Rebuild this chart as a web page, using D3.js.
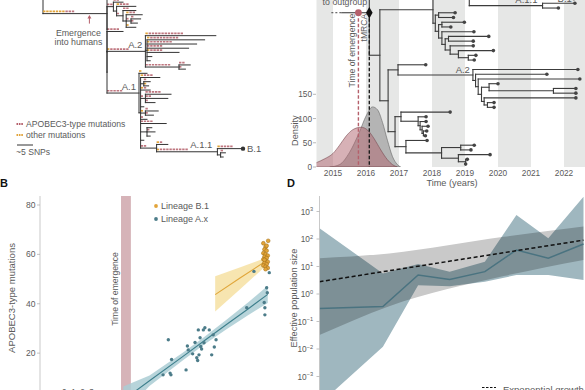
<!DOCTYPE html>
<html><head><meta charset="utf-8">
<script src="https://cdn.jsdelivr.net/npm/d3@7"></script>
<style>
body{margin:0;background:#fff}
svg{display:block}
text{font-family:"Liberation Sans",Arial,sans-serif;fill:#5a5a5a}
</style></head>
<body><svg width="585" height="390"></svg>
<script>
// ================= DATA =================
// Panel A: divergence tree  [id, parent, branch length (SNPs), APOBEC3-type muts, other muts]
const treeA = [
 ["root", null, 0, 0, 0],
 ["mrca", "root", 20, 3, 7],
 ["u", "mrca", 3, 1, 0],
 ["z1", "mrca", 0, 0, 0],
 ["t", "z1", 2, 2, 0],
 ["t_a", "t", 3, 2, 0],
 ["t1", "t", 1, 0, 0],
 ["t_b", "t1", 6, 3, 1],
 ["t2", "t1", 2, 1, 0],
 ["t_c", "t2", 4, 2, 0],
 ["t3", "t2", 1, 0, 0],
 ["t_d", "t3", 5, 2, 1],
 ["t4", "t3", 1.5, 1, 0],
 ["t_e", "t4", 3, 1, 0],
 ["t_f", "t4", 2, 1, 0],
 ["t_g", "t3", 3, 0, 1],
 ["z2", "z1", 0, 0, 0],
 ["s", "z2", 5, 4, 0],
 ["z3", "z2", 0, 0, 0],
 ["a2", "z3", 12, 6, 1],
 ["a2_a", "a2", 22, 11, 1],
 ["a2n1", "a2", 0.5, 0, 0],
 ["a2_b", "a2n1", 18, 9, 1],
 ["a2_c", "a2n1", 15.5, 7, 1],
 ["a2_d", "a2n1", 13, 5, 0],
 ["a2_e", "a2n1", 10, 4, 1],
 ["a2_f", "a2n1", 1.5, 0, 0],
 ["a2_g", "a2n1", 1, 0, 0],
 ["a2n7", "a2", 10.5, 8, 0],
 ["a2_h", "a2n7", 3.5, 2, 0],
 ["a2_i", "a2n7", 2, 1, 0],
 ["a1", "z3", 10, 5, 0],
 ["a1_a", "a1", 2.5, 0, 1],
 ["a1x", "a1", 0.5, 0, 0],
 ["a1_b", "a1x", 6, 3, 1],
 ["a1p", "a1x", 1, 0, 0],
 ["a1p_1", "a1p", 2, 1, 0],
 ["a1p_2", "a1p", 1.5, 0, 1],
 ["a1_c", "a1x", 3, 1, 1],
 ["a1q", "a1x", 1.5, 1, 0],
 ["a1q_1", "a1q", 8, 5, 0],
 ["a1q_2", "a1q", 7, 2, 0],
 ["a1q_3", "a1q", 3, 1, 0],
 ["a1_d", "a1x", 1, 0, 0],
 ["a1r", "a1x", 1.5, 0, 1],
 ["a1r_1", "a1r", 4, 1, 0],
 ["a1r_2", "a1r", 2.5, 1, 0],
 ["a1_e", "a1x", 2, 1, 0],
 ["a1_f", "a1x", 8, 4, 0],
 ["a1s", "a1x", 2, 0, 0],
 ["a1s_1", "a1s", 1.5, 0, 0],
 ["a1s_2", "a1s", 2.5, 1, 0],
 ["a1s_3", "a1s", 1, 0, 0],
 ["a1_g", "a1x", 1, 0, 0],
 ["a1t", "a1x", 5, 2, 0],
 ["a1_h", "a1t", 3.5, 1, 1],
 ["a11", "a1t", 19, 9, 1],
 ["b1", "a11", 8, 4, 1],
 ["a11n", "a11", 1, 0, 0],
 ["a11_x", "a11n", 1.5, 1, 0],
 ["a11_y", "a11n", 0.8, 0, 0]
];
const cladeLabelsA = [["a2", "A.2"], ["a1", "A.1"], ["a11", "A.1.1"]];
const emergenceSNP = 14.5;
const scaleBarSNP = 5;

// Panel C: time tree [id, parent, node date (years)]
const treeC = [
 ["root", null, 2016.1],
 ["rtop", "root", 2016.6],
 ["n1", "root", 2016.42],
 ["a1", "n1", 2018.03],
 ["a1up", "a1", 2019.13],
 ["b1", "a1up", 2020.3],
 ["b1_1", "b1", 2022.2], ["b1_2", "b1", 2021.9], ["b1_3", "b1", 2022.4],
 ["b1_4", "b1", 2022.1], ["b1_5", "b1", 2021.7], ["b1_6", "b1", 2022.3],
 ["a11", "a1up", 2021.35],
 ["a11_a", "a11", 2022.33],
 ["a11_b", "a11", 2021.83],
 ["a1L", "a1", 2018.1],
 ["c1", "a1L", 2018.2], ["c1a", "c1", 2018.7], ["c1b", "c1", 2018.65],
 ["a1L2", "a1L", 2018.2],
 ["c2", "a1L2", 2018.3], ["c2a", "c2", 2018.98], ["c2b", "c2", 2018.57],
 ["a1L3", "a1L2", 2018.3],
 ["l1", "a1L3", 2019.27],
 ["a1L4", "a1L3", 2018.4],
 ["c3", "a1L4", 2018.5], ["c3a", "c3", 2019.72], ["c3b", "c3", 2019.25],
 ["a1L5", "a1L4", 2018.55],
 ["l2", "a1L5", 2019.25],
 ["c4", "a1L5", 2018.8],
 ["l3", "c4", 2019.86],
 ["c5", "c4", 2019.1], ["c5a", "c5", 2019.33], ["c5b", "c5", 2019.28],
 ["n2", "n1", 2016.67],
 ["a2p", "n2", 2016.97],
 ["p", "a2p", 2017.81],
 ["a2", "a2p", 2019.24],
 ["a2_1", "a2", 2022.42],
 ["a2b", "a2", 2019.32],
 ["a2_2", "a2b", 2021.48],
 ["a2c", "a2b", 2019.4],
 ["a2_3", "a2c", 2022.48],
 ["a2d", "a2c", 2019.5],
 ["a2e", "a2d", 2019.73],
 ["a2_4", "a2e", 2020.0],
 ["a2e2", "a2e", 2021.68],
 ["a2_5", "a2e2", 2022.36],
 ["a2_6", "a2e2", 2022.36],
 ["a2f", "a2d", 2019.58],
 ["a2_7", "a2f", 2022.36],
 ["a2g", "a2f", 2019.68],
 ["a2_8", "a2g", 2019.88],
 ["a2_9", "a2g", 2019.88],
 ["bot", "n2", 2016.88],
 ["bu", "bot", 2017.06],
 ["bu_1", "bu", 2018.55],
 ["bu2", "bu", 2017.58],
 ["bu_2", "bu2", 2017.82],
 ["bu3", "bu2", 2017.64],
 ["bu_3", "bu3", 2017.82],
 ["bu4", "bu3", 2017.7],
 ["bu_4", "bu4", 2017.88],
 ["bu5", "bu4", 2017.74],
 ["bu_5", "bu5", 2017.84],
 ["bu_6", "bu5", 2017.8],
 ["bl", "bot", 2017.21],
 ["bl_1", "bl", 2017.85],
 ["bl2", "bl", 2018.29],
 ["bl3", "bl2", 2018.87],
 ["bl_2", "bl3", 2019.28],
 ["bl_3", "bl3", 2019.18],
 ["bl4", "bl2", 2018.8],
 ["bl_4", "bl4", 2019.76],
 ["bl5", "bl4", 2019.02],
 ["bl_5", "bl5", 2019.07],
 ["bl_6", "bl5", 2019.02]
];
const emergenceTime = 2015.77;
const outgroupStub = [2014.95, 2015.25];
const yearTicks = [2015, 2016, 2017, 2018, 2019, 2020, 2021, 2022];
const densityTicks = [0, 50, 100, 150];
const emergenceDensity = [[2014.3,3],[2014.5,9],[2014.75,17],[2015.0,28],[2015.2,45],[2015.4,64],[2015.6,77],[2015.85,82],[2016.05,76],[2016.25,58],[2016.45,35],[2016.65,15],[2016.8,5],[2016.95,0]];
const tmrcaDensity = [[2014.9,0],[2015.2,5],[2015.5,30],[2015.8,72],[2016.0,105],[2016.2,124],[2016.35,118],[2016.5,92],[2016.65,55],[2016.8,22],[2016.95,5],[2017.05,0]];

// Panel B: APOBEC3-type mutations vs sampling date
const lineageAx = [[2017.86,25.4],[2018.01,17.4],[2017.94,11.9],[2017.98,11.2],[2017.62,11.2],[2018.67,13.2],[2018.73,22.9],[2018.77,21.3],[2019.08,24.3],[2019.16,18.1],[2019.2,17.0],[2019.26,19.3],[2019.31,26.2],[2019.34,22.7],[2019.38,21.7],[2019.46,29.4],[2019.53,30.3],[2019.49,24.2],[2019.73,29.4],[2019.84,19.3],[2019.91,27.4],[2019.96,22.5],[2020.04,25.4],[2019.23,29.4],[2018.97,19.7],[2021.44,38.4],[2022.27,38.4],[2022.27,35.5],[2022.35,46.5],[2022.38,44.5],[2022.47,52.6],[2021.77,53.1],[2022.24,40.5]];
const lineageB1 = [[2022.2,64.5],[2022.3,63],[2022.25,62],[2022.35,61.5],[2022.2,60.5],[2022.3,60],[2022.4,59.5],[2022.25,59],[2022.35,58.5],[2022.2,58],[2022.3,57.5],[2022.4,57],[2022.25,56.5],[2022.35,56],[2022.2,55.5],[2022.3,55],[2022.4,54.5],[2022.3,54],[2022.25,57.8],[2022.35,63.5],[2022.42,65.5]];
const fitAx = [[2015.8,1.0,-4.5,6.5],[2017.0,8.8,6.7,10.9],[2018.5,18.5,16.9,20.1],[2019.5,25.0,23.5,26.5],[2020.5,31.5,29.6,33.4],[2021.5,37.9,35.3,40.5],[2022.4,43.8,40.3,47.3]];
const fitB1 = [[2020.0,43.7,36.9,51.1],[2021.15,50.5,46.0,54.8],[2022.3,57.2,55.2,58.5]];
const emergenceWindow = [2015.7, 2016.15];
const mutationTicks = [20, 40, 60, 80];

// Panel D: effective population size
const skylineTimes = [2014.6, 2016.51, 2017.57, 2018.52, 2019.58, 2020.53, 2021.49, 2022.55];
const skylineMedian = [0.30, 0.35, 4.9, 3.4, 6.5, 40, 20, 66];
const skylineUpper = [245, 5.6, 12.3, 6.5, 15, 740, 107, 3470];
const skylineLower = [1e-4, 0.012, 2.1, 1.9, 2.8, 4.9, 4.9, 3.2];
const expTimes = [2014.6, 2016.7, 2020.15, 2022.55];
const expLower = [0.032, 0.36, 4.5, 17.4];
const expUpper = [20, 30, 120, 282];
const expLine = [[2014.6, 2.8], [2022.55, 91]];
const popTickExps = [-3, -2, -1, 0, 1, 2, 3];

// ================= DRAWING =================
const svg = d3.select("svg");
const defs = svg.append("defs");
function clip(id, x, y, w, h) {
  defs.append("clipPath").attr("id", id).append("rect")
    .attr("x", x).attr("y", y).attr("width", w).attr("height", h);
  return `url(#${id})`;
}
const RED = "#b5606b", ORANGE = "#e2a43a", TEAL = "#4c7c89";

function layout(rows, posFn, y0, y1) {
  const root = d3.stratify().id(d => d[0]).parentId(d => d[1])(rows);
  root.eachBefore(n => { n.pos = posFn(n); });
  const leaves = root.leaves();
  const ys = d3.scaleLinear().domain([0, leaves.length - 1]).range([y0, y1]);
  leaves.forEach((l, i) => l.yy = ys(i));
  root.eachAfter(n => {
    if (n.children) n.yy = (n.children[0].yy + n.children[n.children.length - 1].yy) / 2;
  });
  return root;
}
function drawTree(g, root, xs, stroke, sw) {
  const nodes = root.descendants();
  g.append("g").selectAll("line").data(nodes.filter(n => n.parent)).join("line")
    .attr("x1", n => xs(n.parent.pos)).attr("x2", n => xs(n.pos))
    .attr("y1", n => n.yy).attr("y2", n => n.yy)
    .attr("stroke", stroke).attr("stroke-width", sw).attr("stroke-linecap", "square");
  g.append("g").selectAll("line").data(nodes.filter(n => n.children)).join("line")
    .attr("x1", n => xs(n.pos)).attr("x2", n => xs(n.pos))
    .attr("y1", n => d3.min(n.children, c => c.yy)).attr("y2", n => d3.max(n.children, c => c.yy))
    .attr("stroke", stroke).attr("stroke-width", sw).attr("stroke-linecap", "square");
}

// ---------- Panel A ----------
const gA = svg.append("g");
const xA = d3.scaleLinear().domain([0, 60]).range([43, 235]);
const rootA = layout(treeA, n => n.parent ? n.parent.pos + n.data[2] : 0, -2, 157);
const nodeA = id => rootA.descendants().find(n => n.id === id);
// outgroup stub of root
gA.append("line").attr("x1", xA(0)).attr("x2", xA(0)).attr("y1", rootA.yy).attr("y2", -6)
  .attr("stroke", "#333").attr("stroke-width", 1);
// mutation bars
const barNodes = rootA.descendants().filter(n => n.parent);
gA.append("g").selectAll("line").data(barNodes.filter(n => n.data[4] > 0)).join("line")
  .attr("x1", n => xA(n.parent.pos)).attr("x2", n => xA(n.parent.pos + n.data[4]))
  .attr("y1", n => n.yy - 2.3).attr("y2", n => n.yy - 2.3)
  .attr("stroke", ORANGE).attr("stroke-width", 1.7).attr("stroke-dasharray", "2.4,0.8");
gA.append("g").selectAll("line").data(barNodes.filter(n => n.data[3] > 0)).join("line")
  .attr("x1", n => xA(n.parent.pos + n.data[4])).attr("x2", n => xA(n.parent.pos + n.data[4] + n.data[3]))
  .attr("y1", n => n.yy - 2.3).attr("y2", n => n.yy - 2.3)
  .attr("stroke", RED).attr("stroke-width", 1.7).attr("stroke-dasharray", "2.4,0.8").attr("opacity", 0.85);
drawTree(gA, rootA, xA, "#333", 1);
// B.1 tip
const b1A = nodeA("b1");
gA.append("circle").attr("cx", xA(b1A.pos)).attr("cy", b1A.yy).attr("r", 2.2).attr("fill", "#333");
gA.append("text").attr("x", xA(b1A.pos) + 4).attr("y", b1A.yy + 3.5).attr("font-size", 9.5).text("B.1");
cladeLabelsA.forEach(([id, lab]) => {
  const n = nodeA(id);
  gA.append("text").attr("x", xA(n.pos) - (id === "a11" ? 5 : 3)).attr("y", n.yy - 3.5)
    .attr("text-anchor", "end").attr("font-size", 9.5).text(lab);
});
// emergence arrow
const mrca = nodeA("mrca");
const ex = xA(emergenceSNP);
gA.append("line").attr("x1", ex).attr("x2", ex).attr("y1", mrca.yy + 10).attr("y2", mrca.yy + 4)
  .attr("stroke", RED).attr("stroke-width", 1);
gA.append("path").attr("d", `M${ex - 2},${mrca.yy + 5} L${ex},${mrca.yy + 1.5} L${ex + 2},${mrca.yy + 5} Z`).attr("fill", RED);
gA.append("text").attr("x", ex - 11).attr("y", mrca.yy + 22).attr("text-anchor", "middle").attr("font-size", 8.8).text("Emergence");
gA.append("text").attr("x", ex - 11).attr("y", mrca.yy + 31).attr("text-anchor", "middle").attr("font-size", 8.8).text("into humans");
// legend
[[RED, "APOBEC3-type mutations", 124], [ORANGE, "other mutations", 135]].forEach(([c, t, y]) => {
  gA.append("line").attr("x1", 16.5).attr("x2", 23.5).attr("y1", y).attr("y2", y)
    .attr("stroke", c).attr("stroke-width", 1.8).attr("stroke-dasharray", "1.6,0.8");
  gA.append("text").attr("x", 26).attr("y", y + 3).attr("font-size", 8.6).text(t);
});
gA.append("line").attr("x1", 17).attr("x2", 17 + (xA(scaleBarSNP) - xA(0))).attr("y1", 145).attr("y2", 145)
  .attr("stroke", "#333").attr("stroke-width", 1);
gA.append("text").attr("x", 16).attr("y", 155).attr("font-size", 8.6).text("~5 SNPs");

// ---------- Panel C ----------
const gC = svg.append("g");
const xC = d3.scaleLinear().domain([2014.5, 2022.6]).range([316.5, 583.8]);
const yDen = d3.scaleLinear().domain([0, 150]).range([167, 94.3]);
const clipC = clip("clipC", xC(2014.5), 0, 300, yDen(0));
const bands = gC.append("g").attr("clip-path", clipC);
bands.selectAll("rect").data(d3.range(2014, 2023, 2)).join("rect")
  .attr("x", d => xC(d)).attr("width", d => xC(d + 1) - xC(d))
  .attr("y", 0).attr("height", yDen(0)).attr("fill", "#e6e7e6");
const dens = gC.append("g").attr("clip-path", clipC);
const areaD = d3.area().x(d => xC(d[0])).y0(yDen(0)).y1(d => yDen(d[1])).curve(d3.curveMonotoneX);
dens.append("path").attr("d", areaD(tmrcaDensity)).attr("fill", "#a3a3a3").attr("fill-opacity", 0.75)
  .attr("stroke", "#666").attr("stroke-width", 0.6);
dens.append("path").attr("d", areaD(emergenceDensity)).attr("fill", "#b0646e").attr("fill-opacity", 0.5)
  .attr("stroke", "#7a4a50").attr("stroke-width", 0.6);
// axes
gC.append("g").selectAll("text").data(yearTicks).join("text")
  .attr("x", d => xC(d)).attr("y", 176).attr("text-anchor", "middle").attr("font-size", 8.3).text(d => d);
gC.append("text").attr("x", 452).attr("y", 185.5).attr("text-anchor", "middle").attr("font-size", 9.2).text("Time (years)");
gC.append("g").selectAll("text").data(densityTicks).join("text")
  .attr("x", 312).attr("y", d => yDen(d) + 3).attr("text-anchor", "end").attr("font-size", 8.3).text(d => d);
gC.append("g").selectAll("line").data(densityTicks).join("line")
  .attr("x1", 313).attr("x2", 316).attr("y1", d => yDen(d)).attr("y2", d => yDen(d))
  .attr("stroke", "#999").attr("stroke-width", 0.7);
gC.append("text").attr("transform", `translate(298,${yDen(75)}) rotate(-90)`).attr("text-anchor", "middle")
  .attr("font-size", 9.2).text("Density");
// tree
const rootC = layout(treeC, n => n.data[2], -29.8, 164.1);
const gTree = gC.append("g").attr("clip-path", clip("clipCt", 316, 0, 270, 175));
drawTree(gTree, rootC, xC, "#3c3c3c", 1.1);
gTree.append("g").selectAll("circle").data(rootC.leaves().filter(l => l.id !== "rtop")).join("circle")
  .attr("cx", d => xC(d.pos)).attr("cy", d => d.yy).attr("r", 1.8).attr("fill", "#444");
const nodeC = id => rootC.descendants().find(n => n.id === id);
const a2C = nodeC("a2"), a11C = nodeC("a11"), a11aC = nodeC("a11_a");
gC.append("text").attr("x", xC(a2C.pos) - 3).attr("y", a2C.yy - 2).attr("text-anchor", "end").attr("font-size", 9.5).text("A.2");
gC.append("text").attr("x", xC(a11C.pos) - 5).attr("y", a11C.yy - 2.5).attr("text-anchor", "end").attr("font-size", 9.5).text("A.1.1");
gC.append("text").attr("x", xC(a11aC.pos) - 3).attr("y", a11aC.yy - 1).attr("text-anchor", "end").attr("font-size", 9.5).text("B.1");
// emergence / tMRCA markers
const ry = rootC.yy;
gC.append("line").attr("x1", xC(emergenceTime)).attr("x2", xC(emergenceTime)).attr("y1", ry).attr("y2", yDen(0))
  .attr("stroke", RED).attr("stroke-width", 1.4).attr("stroke-dasharray", "3.5,2");
gC.append("line").attr("x1", xC(rootC.pos)).attr("x2", xC(rootC.pos)).attr("y1", ry).attr("y2", yDen(0))
  .attr("stroke", "#1e1e1e").attr("stroke-width", 1.4).attr("stroke-dasharray", "3.5,2");
gC.append("line").attr("x1", xC(outgroupStub[0])).attr("x2", xC(outgroupStub[1])).attr("y1", ry).attr("y2", ry)
  .attr("stroke", "#444").attr("stroke-width", 1).attr("stroke-dasharray", "2,2");
gC.append("line").attr("x1", xC(outgroupStub[1])).attr("x2", xC(rootC.pos)).attr("y1", ry).attr("y2", ry)
  .attr("stroke", "#444").attr("stroke-width", 1.1);
gC.append("circle").attr("cx", xC(emergenceTime)).attr("cy", ry).attr("r", 3.4).attr("fill", RED);
gC.append("path").attr("d", d3.symbol(d3.symbolDiamond, 38)()).attr("transform", `translate(${xC(rootC.pos)},${ry})`).attr("fill", "#111");
gC.append("text").attr("x", (xC(outgroupStub[0]) + xC(emergenceTime)) / 2).attr("y", ry - 8)
  .attr("text-anchor", "middle").attr("font-size", 8.8).text("to outgroup");
gC.append("text").attr("transform", `translate(${xC(emergenceTime) - 3},${ry + 1}) rotate(-90)`)
  .attr("text-anchor", "end").attr("font-size", 8.6).text("Time of emergence");
gC.append("text").attr("transform", `translate(${xC(rootC.pos) - 2},${ry + 1}) rotate(-90)`)
  .attr("text-anchor", "end").attr("font-size", 8.6).text("tMRCA");

// ---------- Panel B ----------
const gB = svg.append("g");
const xB = d3.scaleLinear().domain([2012, 2022.8]).range([40, 276.5]);
const yB = d3.scaleLinear().domain([0, 80]).range([402.5, 205]);
const clipB = clip("clipB", 40, 196, 245, 194);
const gBp = gB.append("g").attr("clip-path", clipB);
gBp.append("rect").attr("x", xB(emergenceWindow[0])).attr("width", xB(emergenceWindow[1]) - xB(emergenceWindow[0]))
  .attr("y", 196).attr("height", 200).attr("fill", "#d6b3b8");
const bandB = d3.area().x(d => xB(d[0])).y0(d => yB(d[2])).y1(d => yB(d[3]));
const lineB = d3.line().x(d => xB(d[0])).y(d => yB(d[1]));
gBp.append("path").attr("d", bandB(fitB1)).attr("fill", "#f6e0a2").attr("opacity", 0.85);
gBp.append("path").attr("d", lineB(fitB1)).attr("fill", "none").attr("stroke", "#e0a63a").attr("stroke-width", 1.1);
gBp.append("path").attr("d", bandB(fitAx)).attr("fill", "#aacdd4").attr("opacity", 0.85);
gBp.append("path").attr("d", lineB(fitAx)).attr("fill", "none").attr("stroke", "#3d7f8c").attr("stroke-width", 1.1);
gBp.append("g").selectAll("circle").data(lineageAx).join("circle")
  .attr("cx", d => xB(d[0])).attr("cy", d => yB(d[1])).attr("r", 1.7).attr("fill", TEAL);
gBp.append("g").selectAll("circle").data(lineageB1).join("circle")
  .attr("cx", d => xB(d[0])).attr("cy", d => yB(d[1])).attr("r", 1.9).attr("fill", ORANGE)
  .attr("stroke", "#9c6d16").attr("stroke-width", 0.5);
gB.append("line").attr("x1", 40).attr("x2", 40).attr("y1", 196).attr("y2", 390).attr("stroke", "#bbb").attr("stroke-width", 0.8);
gB.append("g").selectAll("line").data(mutationTicks).join("line")
  .attr("x1", 37).attr("x2", 40).attr("y1", d => yB(d)).attr("y2", d => yB(d)).attr("stroke", "#aaa").attr("stroke-width", 0.7);
gB.append("g").selectAll("text").data(mutationTicks).join("text")
  .attr("x", 35.5).attr("y", d => yB(d) + 3).attr("text-anchor", "end").attr("font-size", 8.5).attr("fill", "#777").text(d => d);
gB.append("text").attr("transform", "translate(15,298) rotate(-90)").attr("text-anchor", "middle")
  .attr("font-size", 9.5).text("APOBEC3-type mutations");
gB.append("text").attr("transform", `translate(${xB(emergenceWindow[0]) - 3},289) rotate(-90)`).attr("text-anchor", "middle")
  .attr("font-size", 8.6).text("Time of emergence");
[[ORANGE, "Lineage B.1", 206], [TEAL, "Lineage A.x", 219]].forEach(([c, t, y]) => {
  gB.append("circle").attr("cx", 156).attr("cy", y).attr("r", 1.9).attr("fill", c);
  gB.append("text").attr("x", 161).attr("y", y + 3.2).attr("font-size", 9).text(t);
});
gB.append("text").attr("x", 48).attr("y", 394.5).attr("font-size", 8.2).text("μ = 0, 1, 2, 3");
svg.append("text").attr("x", 0).attr("y", 187).attr("font-size", 11).attr("font-weight", "bold").style("fill", "#111").text("B");

// ---------- Panel D ----------
const gD = svg.append("g");
const xD = d3.scaleLinear().domain([2014.6, 2022.55]).range([319.5, 583.5]);
const yP = d3.scaleLog().domain([1e-4, 1e4]).range([404, 184]);
const clipD = clip("clipD", 319.5, 190, 266, 200);
const gDp = gD.append("g").attr("clip-path", clipD);
const sky = skylineTimes.map((t, i) => ({t, m: skylineMedian[i], lo: skylineLower[i], hi: skylineUpper[i]}));
const expB = expTimes.map((t, i) => ({t, lo: expLower[i], hi: expUpper[i]}));
gDp.append("path").attr("d", d3.area().x(d => xD(d.t)).y0(d => yP(d.lo)).y1(d => yP(d.hi))(sky)).attr("fill", "#9fb7bf");
gDp.append("path").attr("d", d3.area().x(d => xD(d.t)).y0(d => yP(d.lo)).y1(d => yP(d.hi)).curve(d3.curveMonotoneX)(expB))
  .attr("fill", "#c9c9c9").style("mix-blend-mode", "multiply");
gDp.append("path").attr("d", d3.line().x(d => xD(d.t)).y(d => yP(d.m))(sky)).attr("fill", "none")
  .attr("stroke", "#4a7380").attr("stroke-width", 1.5);
gDp.append("path").attr("d", d3.line().x(d => xD(d[0])).y(d => yP(d[1]))(expLine)).attr("fill", "none")
  .attr("stroke", "#111").attr("stroke-width", 1.5).attr("stroke-dasharray", "4,2.5");
gD.append("line").attr("x1", 319.5).attr("x2", 319.5).attr("y1", 196).attr("y2", 390).attr("stroke", "#bbb").attr("stroke-width", 0.8);
gD.append("g").selectAll("line").data(popTickExps).join("line")
  .attr("x1", 316.5).attr("x2", 319.5).attr("y1", d => yP(10 ** d)).attr("y2", d => yP(10 ** d)).attr("stroke", "#aaa").attr("stroke-width", 0.7);
popTickExps.forEach(p => {
  const t = gD.append("text").attr("x", 313).attr("y", yP(10 ** p) + 3).attr("text-anchor", "end")
    .attr("font-size", 8.3).attr("fill", "#777");
  t.append("tspan").text("10");
  t.append("tspan").attr("dy", -3.5).attr("font-size", 5.6).text(p < 0 ? "\u2212" + (-p) : p);
});
gD.append("text").attr("transform", "translate(297,298) rotate(-90)").attr("text-anchor", "middle")
  .attr("font-size", 9.2).text("Effective population size");
gD.append("line").attr("x1", 482).attr("x2", 496).attr("y1", 387.5).attr("y2", 387.5)
  .attr("stroke", "#111").attr("stroke-width", 1.2).attr("stroke-dasharray", "2.5,1.5");
gD.append("text").attr("x", 503).attr("y", 392.5).attr("font-size", 9.5).text("Exponential growth");
svg.append("text").attr("x", 287).attr("y", 187).attr("font-size", 11).attr("font-weight", "bold").style("fill", "#111").text("D");
</script></body></html>
